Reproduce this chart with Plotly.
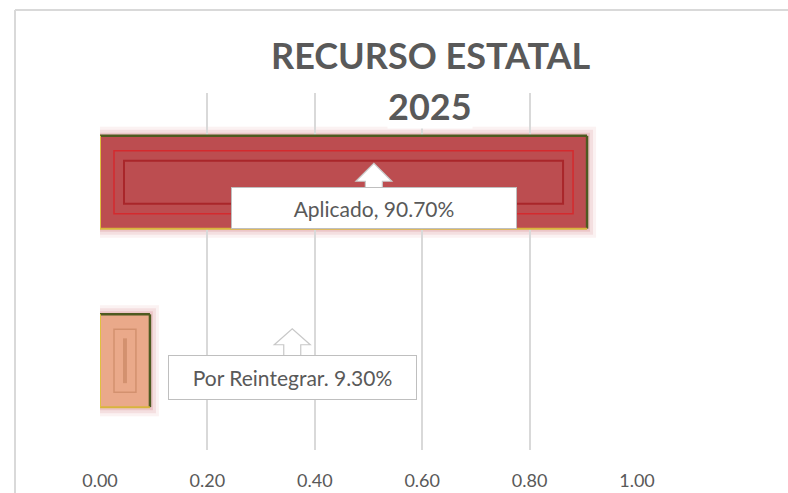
import plotly.graph_objects as go

# ---- data ----
categories = ["Por Reintegrar", "Aplicado"]
values = [0.093, 0.907]
label_texts = ["Por Reintegrar. 9.30%", "Aplicado, 90.70%"]
tick_vals = [0.0, 0.2, 0.4, 0.6, 0.8, 1.0]
tick_text = ["0.00", "0.20", "0.40", "0.60", "0.80", "1.00"]
title_line1 = "RECURSO ESTATAL"
title_line2 = "2025"

# ---- style ----
W, H = 788, 493
PW, PH = 537, 357
ML, MT = 100, 93
MR = W - ML - PW
MB = H - MT - PH
fills = ["#EAA98A", "#BC4D50"]
inner1_col = ["#D3916F", "#D42A2E"]
inner2_col = ["#D3916F", "#A9262A"]
bar_w = 0.52
FONT = "Lato"
GRAY = "#595959"

px_x = 1.0 / PW            # data units per pixel (x range 0..1)
px_y = 2.0 / PH            # category units per pixel (2 categories)

fig = go.Figure()
fig.add_trace(go.Bar(
    y=categories, x=values, orientation="h", width=bar_w,
    marker=dict(color=fills, line=dict(width=0)),
    hoverinfo="skip",
))

shapes = []
# chart frame (top and left edges; right/bottom lie outside the view)
fx0 = (15 - ML) / PW
fy1 = 1 + (MT - 10) / PH
shapes.append(dict(type="line", xref="paper", yref="paper",
                   x0=fx0, x1=1.6, y0=fy1, y1=fy1,
                   line=dict(color="#D9D9D9", width=2), layer="below"))
shapes.append(dict(type="line", xref="paper", yref="paper",
                   x0=fx0, x1=fx0, y0=-0.4, y1=fy1,
                   line=dict(color="#D9D9D9", width=2), layer="below"))

for i, v in enumerate(values):
    y0, y1 = i - bar_w / 2, i + bar_w / 2
    # glow
    for g, a in [(9, 0.08), (6, 0.12), (3, 0.18)]:
        shapes.append(dict(type="rect", xref="x", yref="y",
                           x0=0, x1=v + g * px_x, y0=y0 - g * px_y, y1=y1 + g * px_y,
                           line=dict(width=0), fillcolor="rgba(200,90,95,%s)" % a,
                           layer="below"))
    # bevel edges
    shapes.append(dict(type="line", xref="x", yref="y", x0=0, x1=v, y0=y1, y1=y1,
                       line=dict(color="#4E5A20", width=2.5)))
    shapes.append(dict(type="line", xref="x", yref="y", x0=v, x1=v, y0=y0, y1=y1,
                       line=dict(color="#4E5A20", width=2.5)))
    shapes.append(dict(type="line", xref="x", yref="y", x0=0, x1=v, y0=y0, y1=y0,
                       line=dict(color="#D8B43C", width=2)))
    shapes.append(dict(type="line", xref="x", yref="y", x0=0, x1=0, y0=y0, y1=y1,
                       line=dict(color="#E0C040", width=2)))
    # inner frames
    shapes.append(dict(type="rect", xref="x", yref="y",
                       x0=14 * px_x, x1=v - 14 * px_x,
                       y0=y0 + 15 * px_y, y1=y1 - 15 * px_y,
                       line=dict(color=inner1_col[i], width=1.5),
                       fillcolor="rgba(0,0,0,0)"))
    shapes.append(dict(type="rect", xref="x", yref="y",
                       x0=24 * px_x, x1=v - 24 * px_x,
                       y0=y0 + 25 * px_y, y1=y1 - 25 * px_y,
                       line=dict(color=inner2_col[i], width=2),
                       fillcolor="rgba(0,0,0,0)"))

# callout label geometry (pixel offsets relative to category centre)
label_x = [0.358, 0.51]
box_w = [249, 286]
box_h = [45, 42]
box_top = [-6, 5]          # px below category centre (positive = down)
head_base = [10, 6]        # px above box top
apex_h = [26, 24]          # px above box top
annotations = []
for i in range(2):
    cx = label_x[i]
    t = -box_top[i]                  # box top, up-positive pixels
    hb = t + head_base[i]
    ap = t + apex_h[i]
    sw, hw = 8.5, 18
    path = ("M %f %f L %f %f L %f %f L %f %f L %f %f L %f %f L %f %f" %
            (-sw, t - 1, -sw, hb, -hw, hb, 0, ap, hw, hb, sw, hb, sw, t - 1))
    shapes.append(dict(type="path", xref="x", yref="y",
                       xsizemode="pixel", ysizemode="pixel",
                       xanchor=cx, yanchor=i, path=path,
                       fillcolor="white",
                       line=dict(color="#C8C8C8", width=1.2)))
    annotations.append(dict(
        x=cx, y=categories[i], xref="x", yref="y",
        xanchor="center", yanchor="middle",
        text=label_texts[i], showarrow=False,
        width=box_w[i] - 4, height=box_h[i] - 4,
        yshift=-(box_top[i] + box_h[i] / 2),
        bgcolor="white", bordercolor="#BFBFBF", borderwidth=1,
        font=dict(family=FONT, size=21, color=GRAY),
    ))

# title
annotations.append(dict(x=(431 - ML) / PW, y=1 + (MT - 55) / PH,
                        xref="paper", yref="paper", xanchor="center", yanchor="middle",
                        text="<b>%s</b>" % title_line1, showarrow=False,
                        font=dict(family=FONT, size=36, color=GRAY)))
annotations.append(dict(x=(430 - ML) / PW, y=1 + (MT - 106) / PH,
                        xref="paper", yref="paper", xanchor="center", yanchor="middle",
                        text="<b>%s</b>" % title_line2, showarrow=False,
                        bgcolor="white", borderpad=0,
                        font=dict(family=FONT, size=36, color=GRAY)))

fig.update_layout(
    width=W, height=H,
    margin=dict(l=ML, r=MR, t=MT, b=MB, pad=0, autoexpand=False),
    paper_bgcolor="white", plot_bgcolor="white",
    showlegend=False, bargap=0.48,
    shapes=shapes, annotations=annotations,
    xaxis=dict(range=[0, 1.0], tickvals=tick_vals, ticktext=tick_text,
               showgrid=True, gridcolor="#D9D9D9", gridwidth=1.5,
               zeroline=False, showline=False, ticks="", automargin=False,
               ticklabelstandoff=18,
               tickfont=dict(family=FONT, size=18, color=GRAY)),
    yaxis=dict(categoryorder="array", categoryarray=categories,
               showticklabels=False, showgrid=False, zeroline=False,
               showline=False, range=[-0.5, 1.5], automargin=False),
)

fig.write_html(
    "out.html",
    config={"displayModeBar": False},
    post_script="var de=document.documentElement, b=document.body;"
                "de.style.overflow='hidden'; b.style.overflow='hidden';"
                "de.style.scrollbarWidth='none'; b.style.scrollbarWidth='none';"
                "b.style.margin='0'; void b.offsetHeight; window.scrollTo(0,0);",
)
